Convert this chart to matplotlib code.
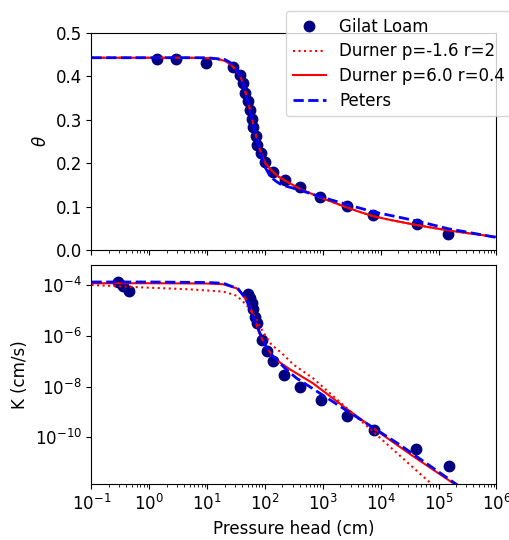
import numpy as np
import matplotlib
matplotlib.use('Agg')
import matplotlib.pyplot as plt
from matplotlib.ticker import NullLocator, FixedLocator

plt.rcParams['font.size'] = 12

# ---- observed data: Gilat Loam ----
theta_h = [1.37, 2.88, 9.6, 28.2, 36.9, 42, 45, 50, 54.9, 58.7, 62.5, 69.7, 73.4,
           84, 99.7, 139, 221, 402, 889, 2576, 7420, 41700, 146800]
theta_obs = [0.440, 0.440, 0.430, 0.422, 0.403, 0.384, 0.362, 0.344, 0.323, 0.303,
             0.284, 0.263, 0.242, 0.223, 0.203, 0.180, 0.161, 0.146, 0.121, 0.101,
             0.081, 0.060, 0.038]

k_h = [0.29, 0.35, 0.45, 50, 54.9, 58.7, 62.5, 67, 73, 87.5, 107, 135, 212, 402,
       915, 2576, 7630, 40600, 151000]
k_obs_log = [-3.87, -4.04, -4.24, -4.35, -4.52, -4.72, -4.96, -5.25, -5.51, -6.16,
             -6.59, -7.01, -7.54, -8.01, -8.55, -9.15, -9.73, -10.45, -11.14]

# ---- retention curves ----
durner_theta_h = [0.1, 1, 5, 10, 15, 20, 25, 30, 35, 40, 45, 50, 55, 60, 65, 70, 75,
                  80, 90, 100, 120, 140, 170, 210, 300, 400, 600, 900, 1500, 2600,
                  4500, 7400, 15000, 40000, 80000, 150000, 400000, 1e6]
durner_theta = [0.443, 0.443, 0.443, 0.442, 0.440, 0.436, 0.428, 0.418, 0.406, 0.391,
                0.368, 0.345, 0.323, 0.300, 0.281, 0.263, 0.247, 0.234, 0.215, 0.201,
                0.188, 0.179, 0.169, 0.162, 0.150, 0.141, 0.131, 0.121, 0.110, 0.098,
                0.087, 0.078, 0.069, 0.058, 0.051, 0.045, 0.037, 0.030]

peters_theta_h = [0.1, 1, 10, 20, 25, 30, 35, 40, 45, 50, 55, 60, 65, 70, 80, 90, 100,
                  120, 140, 160, 194, 400, 889, 2576, 7420, 41700, 146800, 1e6]
peters_theta = [0.443, 0.443, 0.443, 0.439, 0.432, 0.421, 0.408, 0.391, 0.368, 0.345,
                0.323, 0.300, 0.281, 0.263, 0.232, 0.208, 0.191, 0.172, 0.163, 0.157,
                0.150, 0.138, 0.123, 0.105, 0.088, 0.067, 0.049, 0.029]

# ---- conductivity curves (log10 K) ----
durner1_k_h = [0.1, 0.69, 5.0, 19, 32.3, 48, 67, 81.7, 99.7, 130, 194, 308, 681,
               2576, 9680, 62100, 128000]
durner1_logk = [-4.00, -4.09, -4.17, -4.26, -4.42, -4.79, -5.25, -5.64, -5.97, -6.36,
                -6.68, -7.13, -7.68, -8.85, -10.02, -11.67, -12.30]

durner2_k_h = [0.1, 1, 10, 19, 32.3, 42, 55, 67, 81.7, 104.6, 130, 180, 268, 681,
               2576, 9680, 36400, 176000, 340000]
durner2_logk = [-3.93, -3.93, -3.94, -3.97, -4.13, -4.39, -4.85, -5.38, -5.97, -6.43,
                -6.75, -7.05, -7.32, -7.88, -8.88, -9.83, -10.75, -11.80, -12.25]

peters_k_h = [0.1, 1, 10, 19, 34.3, 48, 62.8, 81.7, 104.6, 138, 236, 350, 2576, 21500,
              205000, 500000]
peters_logk = [-3.88, -3.88, -3.90, -3.93, -4.15, -4.59, -5.25, -5.90, -6.43, -6.82,
               -7.34, -7.67, -8.95, -10.30, -11.86, -12.45]

fig = plt.figure(figsize=(5.1, 5.4), dpi=100)
ax1 = fig.add_axes([0.1794, 0.537, 0.7941, 0.4019])
ax2 = fig.add_axes([0.1794, 0.1028, 0.7941, 0.4065], sharex=ax1)

# top: retention
ax1.plot(theta_h, theta_obs, 'o', color='navy', ms=7.5, label='Gilat Loam')
ax1.plot(durner_theta_h, durner_theta, 'r:', lw=1.5, label='Durner p=-1.6 r=2')
ax1.plot(durner_theta_h, durner_theta, 'r-', lw=1.5, label='Durner p=6.0 r=0.4')
ax1.plot(peters_theta_h, peters_theta, 'b--', lw=2, label='Peters')
ax1.set_xscale('log')
ax1.set_xlim(1e-1, 1e6)
ax1.set_ylim(0, 0.5)
ax1.set_ylabel(r'$\theta$')
ax1.tick_params(labelbottom=False)

# bottom: conductivity
ax2.plot(k_h, 10 ** np.array(k_obs_log), 'o', color='navy', ms=7.5)
ax2.plot(durner1_k_h, 10 ** np.array(durner1_logk), 'r:', lw=1.5)
ax2.plot(durner2_k_h, 10 ** np.array(durner2_logk), 'r-', lw=1.5)
ax2.plot(peters_k_h, 10 ** np.array(peters_logk), 'b--', lw=2)
ax2.set_yscale('log')
ax2.set_ylim(10 ** -11.86, 10 ** -3.21)
ax2.yaxis.set_major_locator(FixedLocator([1e-10, 1e-8, 1e-6, 1e-4]))
ax2.yaxis.set_minor_locator(NullLocator())
ax2.set_ylabel('K (cm/s)')
ax2.set_xlabel('Pressure head (cm)')

fig.legend(*ax1.get_legend_handles_labels(), loc='upper left',
           bbox_to_anchor=(286 / 510, 1 - 11 / 540), borderaxespad=0,
           labelspacing=0.4)

fig.savefig('out.png', dpi=100)
